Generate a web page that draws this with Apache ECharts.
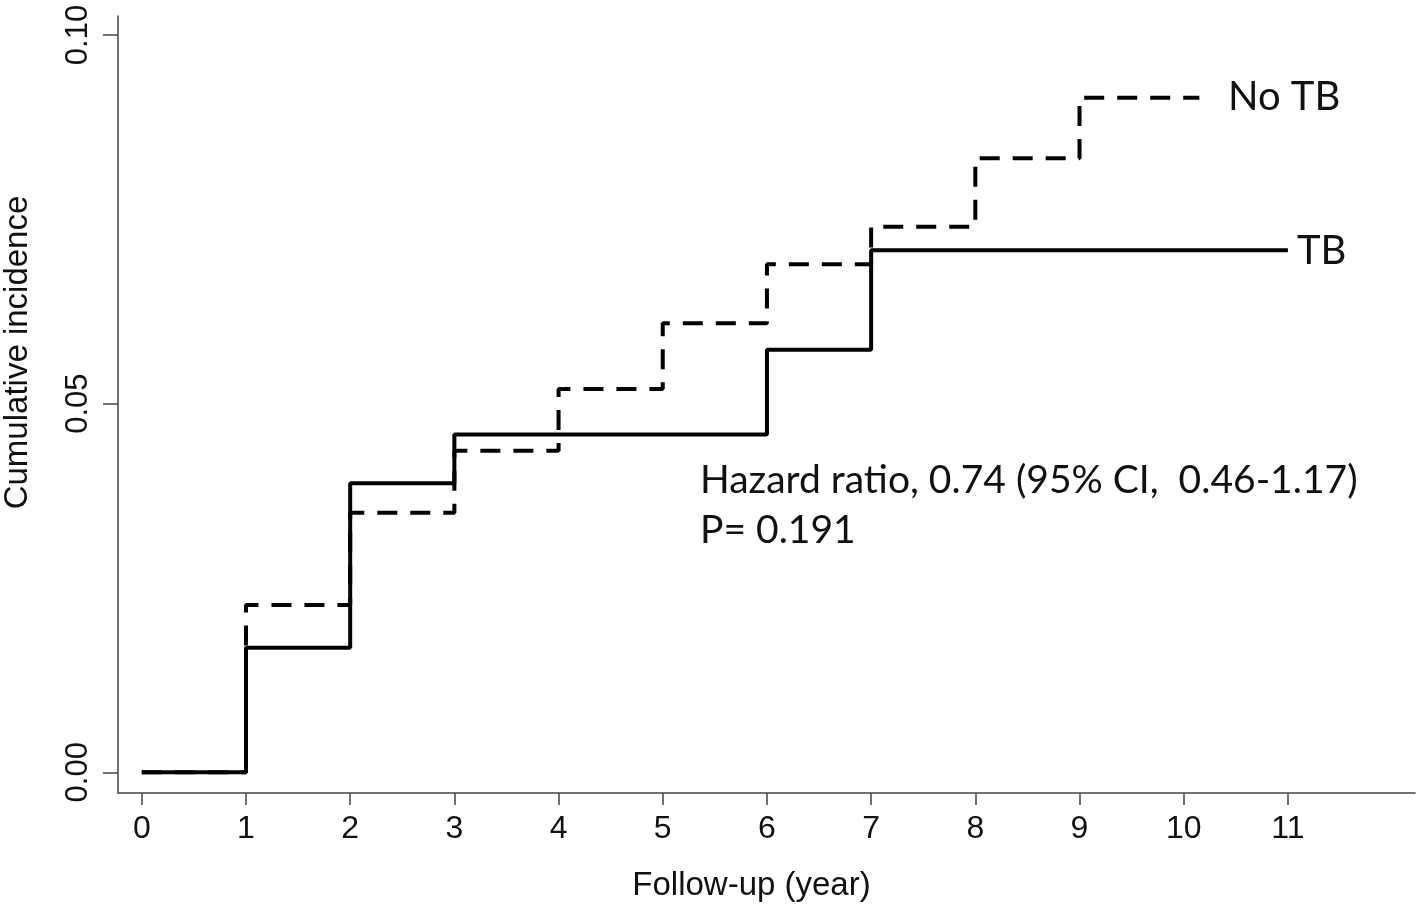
<!DOCTYPE html>
<html>
<head>
<meta charset="utf-8">
<script src="https://cdn.jsdelivr.net/npm/echarts@6/dist/echarts.min.js"></script>
<style>
html,body{margin:0;padding:0;background:#fff;}
#chart{width:1418px;height:906px;}
</style>
</head>
<body>
<div id="chart"></div>
<script>
// ---- data ----
const xTicks = [0,1,2,3,4,5,6,7,8,9,10,11];
const yTicks = [0, 0.05, 0.10];
const tbTimes   = [0, 1, 2, 3, 6, 7, 11];
const tbValues  = [0, 0.0169, 0.0392, 0.0458, 0.0573, 0.0708, 0.0708];
const noTbTimes  = [0, 1, 2, 3, 4, 5, 6, 7, 8, 9, 10.15];
const noTbValues = [0, 0.0227, 0.0352, 0.0436, 0.0520, 0.0609, 0.0689, 0.0740, 0.0833, 0.0915, 0.0915];
const xTitle = 'Follow-up (year)';
const yTitle = 'Cumulative incidence';
const annotLine1 = 'Hazard ratio, 0.74 (95% CI,  0.46-1.17)';
const annotLine2 = 'P= 0.191';
const labelNoTB = 'No TB';
const labelTB = 'TB';

const chart = echarts.init(document.getElementById('chart'), null, {renderer:'canvas'});
const axisColor = '#444';
const sansFont = '"Liberation Sans", Arial, sans-serif';
const annotFont = 'Lato, "Open Sans", sans-serif';

const option = {
  backgroundColor: '#ffffff',
  animation: false,
  grid: { left: 118, right: 3, top: 16, bottom: 113, containLabel: false, outerBoundsMode: 'none' },
  xAxis: {
    type: 'value',
    min: -0.2285, max: 12.22,
    name: xTitle,
    nameLocation: 'middle',
    nameGap: 76,
    nameTextStyle: { fontFamily: sansFont, fontSize: 33, color: '#111', padding: [0, 30, 0, 0] },
    axisLine: { show: true, onZero: false, lineStyle: { color: axisColor, width: 1.5 } },
    axisTick: { show: true, length: 12, lineStyle: { color: axisColor, width: 1.5 }, customValues: xTicks },
    axisLabel: { fontFamily: sansFont, fontSize: 32, color: '#111', margin: 20, customValues: xTicks,
                 formatter: v => String(v) },
    splitLine: { show: false }
  },
  yAxis: {
    type: 'value',
    min: -0.00281, max: 0.10258,
    name: yTitle,
    nameLocation: 'middle',
    nameGap: 84,
    nameRotate: 90,
    nameTextStyle: { fontFamily: sansFont, fontSize: 33, color: '#111', padding: [0, 0, 0, 104] },
    axisLine: { show: true, onZero: false, lineStyle: { color: axisColor, width: 1.5 } },
    axisTick: { show: true, length: 15, lineStyle: { color: axisColor, width: 1.5 }, customValues: yTicks },
    axisLabel: { fontFamily: sansFont, fontSize: 31, color: '#111', margin: 24, rotate: 90,
                 customValues: yTicks, formatter: v => v.toFixed(2) },
    splitLine: { show: false }
  },
  series: [
    {
      name: 'No TB',
      type: 'line',
      step: 'end',
      symbol: 'none',
      data: noTbTimes.map((t, i) => [t, noTbValues[i]]),
      lineStyle: { color: '#000', width: 4, type: [20, 13], cap: 'butt' },
      z: 2
    },
    {
      name: 'TB',
      type: 'line',
      step: 'end',
      symbol: 'none',
      data: tbTimes.map((t, i) => [t, tbValues[i]]),
      lineStyle: { color: '#000', width: 4, type: 'solid' },
      z: 3
    }
  ],
  graphic: [
    { type: 'text', left: 700, top: 481 - 20, style: { text: annotLine1, font: '39px ' + annotFont, fill: '#111' } },
    { type: 'text', left: 700, top: 531 - 20, style: { text: annotLine2, font: '39px ' + annotFont, fill: '#111' } },
    { type: 'text', left: 1228, top: 97 - 20, style: { text: labelNoTB, font: '40px ' + annotFont, fill: '#111' } },
    { type: 'text', left: 1297, top: 251 - 20, style: { text: labelTB, font: '40px ' + annotFont, fill: '#111' } }
  ]
};
chart.setOption(option);
</script>
</body>
</html>
